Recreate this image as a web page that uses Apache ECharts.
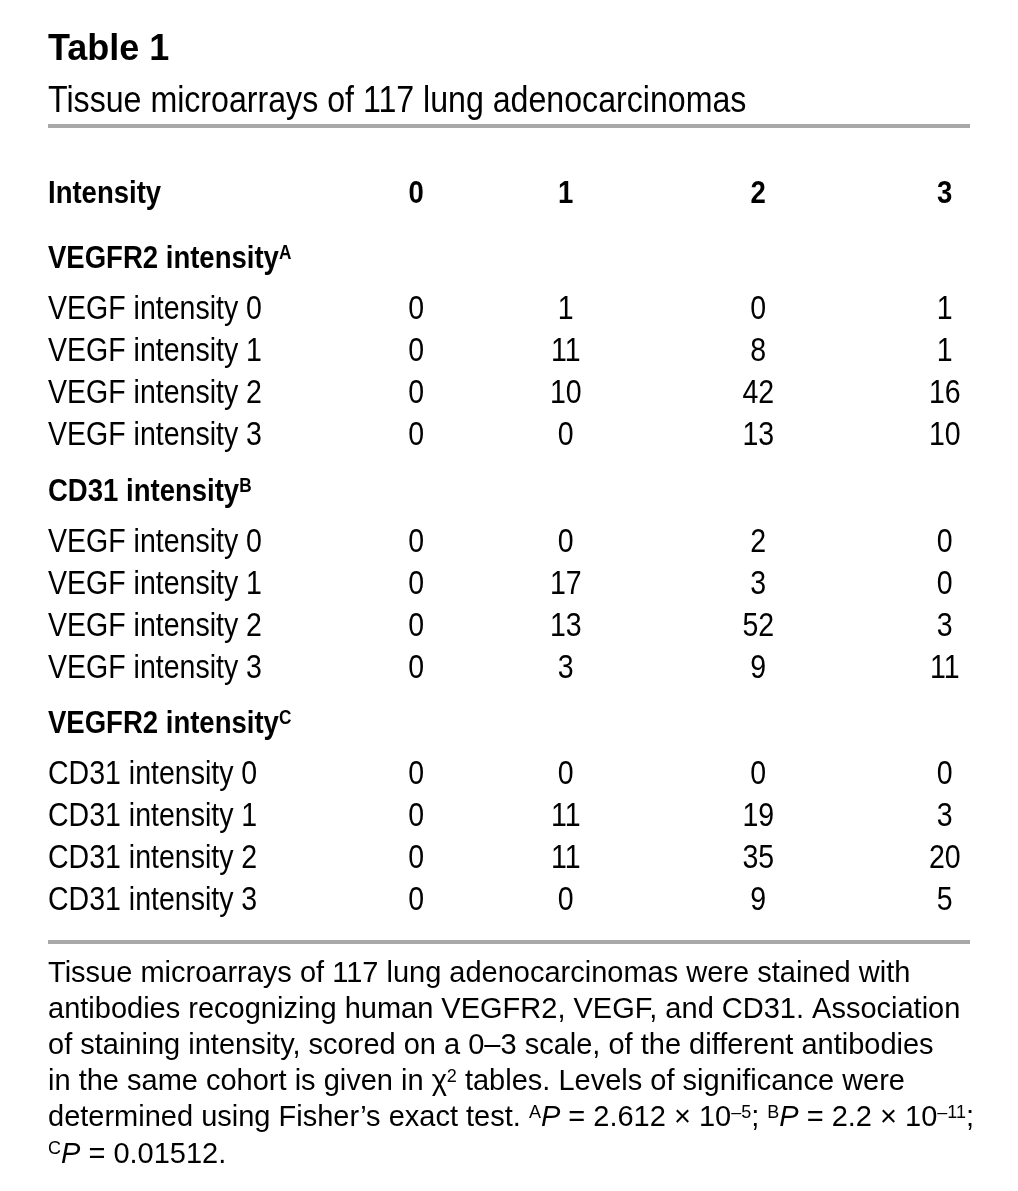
<!DOCTYPE html>
<html><head><meta charset="utf-8">
<script src="https://cdn.jsdelivr.net/npm/echarts@6/dist/echarts.min.js"></script>
<style>html,body{margin:0;padding:0;background:#fff}#c{width:1018px;height:1191px}</style>
</head><body><div id="c"></div>
<script>
// ---------- data ----------
const tableTitle = 'Table 1';
const tableSubtitle = 'Tissue microarrays of 117 lung adenocarcinomas';
const headerLabel = 'Intensity';
const columnLabels = ['0', '1', '2', '3'];
const sectionTitles = ['VEGFR2 intensity', 'CD31 intensity', 'VEGFR2 intensity'];
const sectionNotes = ['A', 'B', 'C'];
const vegfRowLabels = ['VEGF intensity 0', 'VEGF intensity 1', 'VEGF intensity 2', 'VEGF intensity 3'];
const cd31RowLabels = ['CD31 intensity 0', 'CD31 intensity 1', 'CD31 intensity 2', 'CD31 intensity 3'];
const vegfr2ByVegf = [[0, 1, 0, 1], [0, 11, 8, 1], [0, 10, 42, 16], [0, 0, 13, 10]];
const cd31ByVegf = [[0, 0, 2, 0], [0, 17, 3, 0], [0, 13, 52, 3], [0, 3, 9, 11]];
const vegfr2ByCd31 = [[0, 0, 0, 0], [0, 11, 19, 3], [0, 11, 35, 20], [0, 0, 9, 5]];
const footnoteLines = [
  'Tissue microarrays of 117 lung adenocarcinomas were stained with',
  'antibodies recognizing human VEGFR2, VEGF, and CD31. Association',
  'of staining intensity, scored on a 0\u20133 scale, of the different antibodies',
  'in the same cohort is given in \u03c7{sup|2} tables. Levels of significance were',
  'determined using Fisher\u2019s exact test. {sup|A}{it|P} = 2.612 \u00d7 10{sup|\u20135}; {sup|B}{it|P} = 2.2 \u00d7 10{sup|\u201311};',
  '{sup|C}{it|P} = 0.01512.'
];

// ---------- layout / style ----------
const FONT = '"Liberation Sans", Arial, Helvetica, sans-serif';
const TEXT = '#000';
const LABEL_X = 48;
const GRID_LEFT = 328, GRID_WIDTH = 690, GRID_HEIGHT = 167;
const GRID_TOPS = [289.5, 522.5, 754.5];
const COL_NUDGE = [2, -21, -1, 13];
const HEADER_OFFSET = -116, SECTION_OFFSET = -51;
const BODY_SIZE = 33, BODY_SX = 0.864;
const BOLD_SIZE = 32, BOLD_SX = 0.86;

const sections = [
  { title: sectionTitles[0], note: sectionNotes[0], rows: vegfRowLabels, values: vegfr2ByVegf },
  { title: sectionTitles[1], note: sectionNotes[1], rows: vegfRowLabels, values: cd31ByVegf },
  { title: sectionTitles[2], note: sectionNotes[2], rows: cd31RowLabels, values: vegfr2ByCd31 }
];

function bodyText(text, x, y, align) {
  return { type: 'text', x: x, y: y, scaleX: BODY_SX,
    style: { text: text, fill: TEXT, fontSize: BODY_SIZE, fontFamily: FONT, align: align, verticalAlign: 'middle' } };
}
function boldText(text, x, y, align, rich) {
  return { type: 'text', x: x, y: y, scaleX: BOLD_SX,
    style: { text: text, fill: TEXT, fontSize: BOLD_SIZE, fontWeight: 'bold', fontFamily: FONT, lineHeight: 32,
      align: align, verticalAlign: 'middle', rich: rich || {} } };
}

const grids = [], xAxes = [], yAxes = [], series = [];
sections.forEach((sec, gi) => {
  grids.push({ left: GRID_LEFT, width: GRID_WIDTH, top: GRID_TOPS[gi], height: GRID_HEIGHT });
  xAxes.push({ type: 'category', gridIndex: gi, data: columnLabels, show: false });
  yAxes.push({
    type: 'category', gridIndex: gi, data: sec.rows, inverse: true,
    axisLine: { show: false }, axisTick: { show: false }, splitLine: { show: false }, axisLabel: { show: false }
  });
  // row labels, placed on the y axis categories
  series.push({
    type: 'custom', name: sec.title + ' rows', xAxisIndex: gi, yAxisIndex: gi, silent: true,
    data: sec.rows.map((l, r) => [0, r]),
    renderItem: (params, api) => {
      const p = api.coord([0, api.value(1)]);
      return bodyText(sec.rows[params.dataIndex], LABEL_X, p[1], 'left');
    }
  });
  // cell values
  const cells = [];
  sec.values.forEach((row, r) => row.forEach((v, c) => cells.push([c, r, v])));
  series.push({
    type: 'custom', name: sec.title + ' values', xAxisIndex: gi, yAxisIndex: gi, data: cells, silent: true,
    renderItem: (params, api) => {
      const c = api.value(0), r = api.value(1);
      const p = api.coord([c, r]);
      return bodyText(String(api.value(2)), p[0] + COL_NUDGE[c], p[1], 'center');
    }
  });
  // section title
  series.push({
    type: 'custom', name: sec.title + ' title', xAxisIndex: gi, yAxisIndex: gi, data: [[0, 0]], silent: true,
    renderItem: (params, api) => {
      const p = api.coord([0, 0]);
      return boldText(sec.title + '{s|' + sec.note + '}', LABEL_X, p[1] + SECTION_OFFSET, 'left',
        { s: { fontSize: 20, fontWeight: 'bold', fontFamily: FONT, fill: TEXT, lineHeight: 20, verticalAlign: 'top' } });
    }
  });
});
// header row
series.push({
  type: 'custom', name: 'column headers', xAxisIndex: 0, yAxisIndex: 0,
  data: columnLabels.map((l, i) => [i, 0]), silent: true,
  renderItem: (params, api) => {
    const c = api.value(0);
    const p = api.coord([c, 0]);
    return boldText(columnLabels[params.dataIndex], p[0] + COL_NUDGE[c], p[1] + HEADER_OFFSET, 'center');
  }
});
series.push({
  type: 'custom', name: 'row header', xAxisIndex: 0, yAxisIndex: 0, data: [[0, 0]], silent: true,
  renderItem: (params, api) => {
    const p = api.coord([0, 0]);
    return boldText(headerLabel, LABEL_X, p[1] + HEADER_OFFSET, 'left');
  }
});

const footRich = {
  sup: { fontSize: 18, fontFamily: FONT, fill: TEXT, lineHeight: 18, verticalAlign: 'top' },
  it: { fontSize: 29, fontFamily: FONT, fill: TEXT, fontStyle: 'italic', lineHeight: 28 }
};
const graphic = [
  { type: 'text', x: 48, y: 102, scaleX: 0.857,
    style: { text: tableSubtitle, fill: TEXT, fontSize: 37.5, fontFamily: FONT, align: 'left', verticalAlign: 'middle' } },
  { type: 'rect', shape: { x: 48, y: 124, width: 922, height: 4 }, style: { fill: '#a8a8a8' } },
  { type: 'rect', shape: { x: 48, y: 940, width: 922, height: 4 }, style: { fill: '#a8a8a8' } }
];
footnoteLines.forEach((line, i) => {
  graphic.push({ type: 'text', x: 48, y: 973.5 + i * 36.2,
    style: { text: line, fill: TEXT, fontSize: 29, fontFamily: FONT, lineHeight: 28, align: 'left', verticalAlign: 'middle', rich: footRich } });
});

const chart = echarts.init(document.getElementById('c'), null, { renderer: 'canvas' });
chart.setOption({
  backgroundColor: '#fff',
  animation: false,
  title: {
    text: tableTitle, left: 48, top: 32, padding: 0,
    textStyle: { fontSize: 36, fontWeight: 'bold', color: TEXT, fontFamily: FONT }
  },
  grid: grids, xAxis: xAxes, yAxis: yAxes, series: series, graphic: graphic
});
</script></body></html>
